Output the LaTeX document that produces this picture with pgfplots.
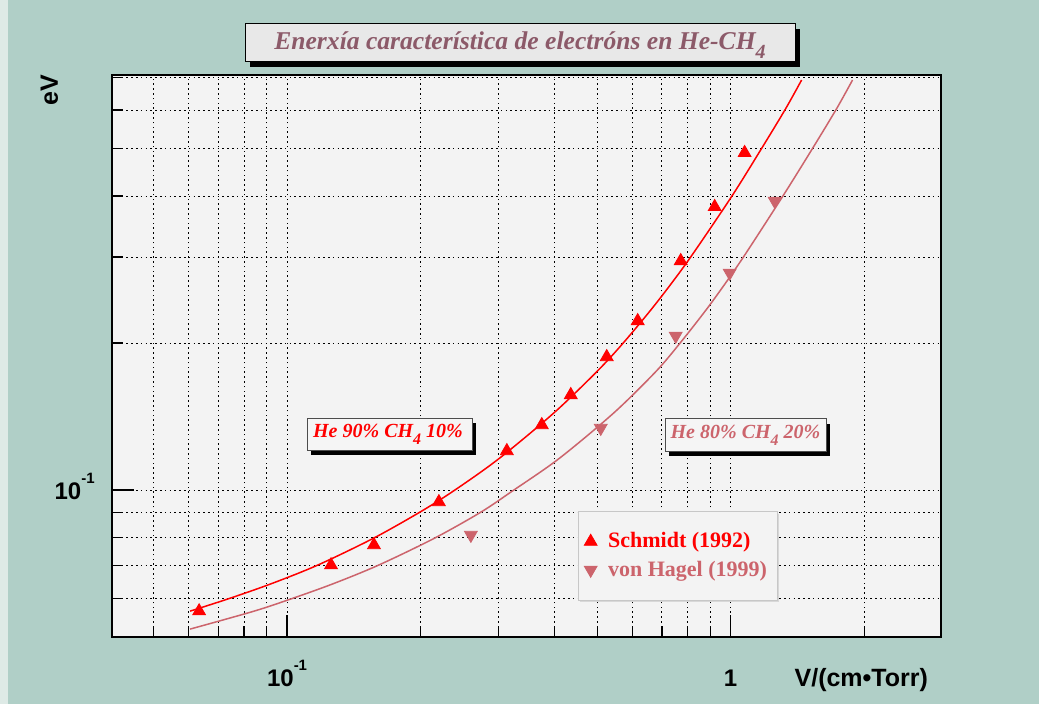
\documentclass[border=0pt]{standalone}
\usepackage{pgfplots}
\pgfplotsset{compat=1.18}
\usepackage{fontspec}
\setmainfont{Liberation Serif}
\setsansfont{Liberation Sans}
\usetikzlibrary{shadows}
\definecolor{bgteal}{RGB}{176,207,199}
\definecolor{plotbg}{RGB}{243,243,243}
\definecolor{titlebg}{RGB}{232,232,232}
\definecolor{titlec}{RGB}{140,90,105}
\definecolor{pinkc}{RGB}{204,100,108}
\definecolor{legbg}{RGB}{243,243,243}
\definecolor{stripc}{RGB}{222,234,230}
\newcommand{\tl}[2]{#1\raisebox{8pt}{\fontsize{7.5}{8}\selectfont #2}}
\begin{document}
\begin{tikzpicture}
\fill[bgteal] (-56pt,-33.5pt) rectangle (463.5pt,318.5pt);
\fill[stripc] (-56pt,-33.5pt) rectangle (-52pt,318.5pt);
\begin{axis}[
  at={(0pt,0pt)}, anchor=south west,
  scale only axis, width=414.5pt, height=281pt,
  xmode=log, ymode=log,
  xmin=0.0403, xmax=2.98, ymin=0.05, ymax=0.708,
  axis background/.style={fill=plotbg},
  xtick={0.1,1}, xticklabels={{\tl{10}{-1}},{1}},
  ytick={0.1}, yticklabels={{\tl{10}{-1}}},
  minor xtick={0.05,0.06,0.07,0.08,0.09,0.2,0.3,0.4,0.5,0.6,0.7,0.8,0.9,2},
  minor ytick={0.06,0.07,0.08,0.09,0.2,0.3,0.4,0.5,0.6,0.7},
  grid=both,
  major grid style={black, line width=0.5pt, dash pattern=on 0.8pt off 1.6pt},
  minor grid style={black, line width=0.5pt, dash pattern=on 0.8pt off 1.6pt},
  tick pos=left, tick align=inside,
  major tick length=11pt, minor tick length=5.5pt,
  tick style={black, line width=0.6pt},
  axis line style={black, line width=0.9pt},
  ticklabel style={font=\sffamily\bfseries\fontsize{12}{14}\selectfont, inner sep=0pt},
  xticklabel style={anchor=base, yshift=-25pt},
  yticklabel style={anchor=base east, xshift=-8.5pt, yshift=-4.5pt},
  legend style={at={(0.562,0.224)}, anchor=north west, fill=legbg, draw=black!22,
    font=\fontsize{11}{13}\selectfont\bfseries, inner xsep=3pt, inner ysep=8.5pt,
    row sep=1pt, cells={anchor=west},
    drop shadow={shadow xshift=1pt, shadow yshift=-1pt, fill=black!25}},
  legend image code/.code={\draw[mark repeat=2,mark phase=2,#1] plot coordinates {(0pt,0pt) (4pt,0pt) (8pt,0pt)};},
]
\addplot[red, line width=0.75pt, smooth, forget plot] coordinates {
(0.06046,0.05649) (0.07365,0.05985) (0.09156,0.06415) (0.11684,0.07009) (0.15622,0.07958) (0.19930,0.09010) (0.23772,0.09967) (0.30023,0.11591) (0.39937,0.14381) (0.49914,0.17475) (0.5711,0.19953) (0.6742,0.23916) (0.8003,0.29420) (1.0052,0.39924) (1.1743,0.50072) (1.3300,0.60358) (1.4454,0.69143)};
\addplot[pinkc, line width=0.75pt, smooth, forget plot] coordinates {
(0.06046,0.05190) (0.08427,0.05649) (0.10210,0.05985) (0.12631,0.06415) (0.16032,0.07009) (0.21436,0.07958) (0.27352,0.09010) (0.32285,0.09967) (0.40995,0.11591) (0.54498,0.14381) (0.67795,0.17475) (0.7676,0.19953) (0.8968,0.23916) (1.0532,0.29420) (1.3096,0.39924) (1.5298,0.50072) (1.7327,0.60358) (1.8829,0.69143)};
\addplot[only marks, mark=triangle*, mark size=3.7pt, color=red, mark options={fill=red, draw=red}] coordinates {
(0.06335,0.05649) (0.12563,0.07019) (0.15700,0.07715) (0.21990,0.09450) (0.31294,0.12022) (0.37523,0.13590) (0.43612,0.15657) (0.5256,0.18730) (0.6173,0.22197) (0.7718,0.29457) (0.9204,0.38013) (1.0752,0.49047)};
\addlegendentry{\hspace{3.5pt}\textcolor{red}{Schmidt (1992)}}
\addplot[only marks, mark=triangle*, mark size=3.7pt, color=pinkc, mark options={fill=pinkc, draw=pinkc, rotate=180}] coordinates {
(0.25962,0.08089) (0.5095,0.13397) (0.7519,0.20682) (0.9948,0.27836) (1.2563,0.39100)};
\addlegendentry{\hspace{3.5pt}\textcolor{pinkc}{von Hagel (1999)}}
\end{axis}
% title
\fill[black] (69pt,285pt) rectangle (344pt,304pt);
\filldraw[fill=titlebg, draw=black, line width=0.5pt] (66.5pt,287.5pt) rectangle (341.5pt,306.5pt);
\node[anchor=base, text=titlec, font=\fontsize{12.8}{14}\selectfont\bfseries\itshape] at (204pt,293.5pt) {Enerxía característica de electróns en He-CH\raisebox{-4.5pt}{\fontsize{10}{10}\selectfont 4}};
% label 1
\fill[black] (99.5pt,91pt) rectangle (182pt,107pt);
\filldraw[fill=white!96!black, draw=black!70, line width=0.5pt] (97.5pt,93pt) rectangle (180pt,109pt);
\node[anchor=base, text=red, font=\fontsize{10}{12}\selectfont\bfseries\itshape] at (138pt,99.5pt) {He 90\% CH\raisebox{-3.5pt}{\fontsize{8}{8}\selectfont 4} 10\%};
% label 2
\fill[black] (278.5pt,90.5pt) rectangle (359pt,106.5pt);
\filldraw[fill=white!96!black, draw=black!70, line width=0.5pt] (276.5pt,92.5pt) rectangle (357pt,109pt);
\node[anchor=base, text=pinkc, font=\fontsize{10}{12}\selectfont\bfseries\itshape] at (316.75pt,99pt) {He 80\% CH\raisebox{-3.5pt}{\fontsize{8}{8}\selectfont 4} 20\%};
% axis titles
\node[rotate=90, font=\sffamily\bfseries\fontsize{12.5}{14}\selectfont] at (-31.25pt,273.5pt) {eV};
\node[anchor=base east, font=\sffamily\bfseries\fontsize{12.5}{14}\selectfont] at (411.5pt,-25pt) {V/(cm•Torr)};
\end{tikzpicture}
\end{document}
